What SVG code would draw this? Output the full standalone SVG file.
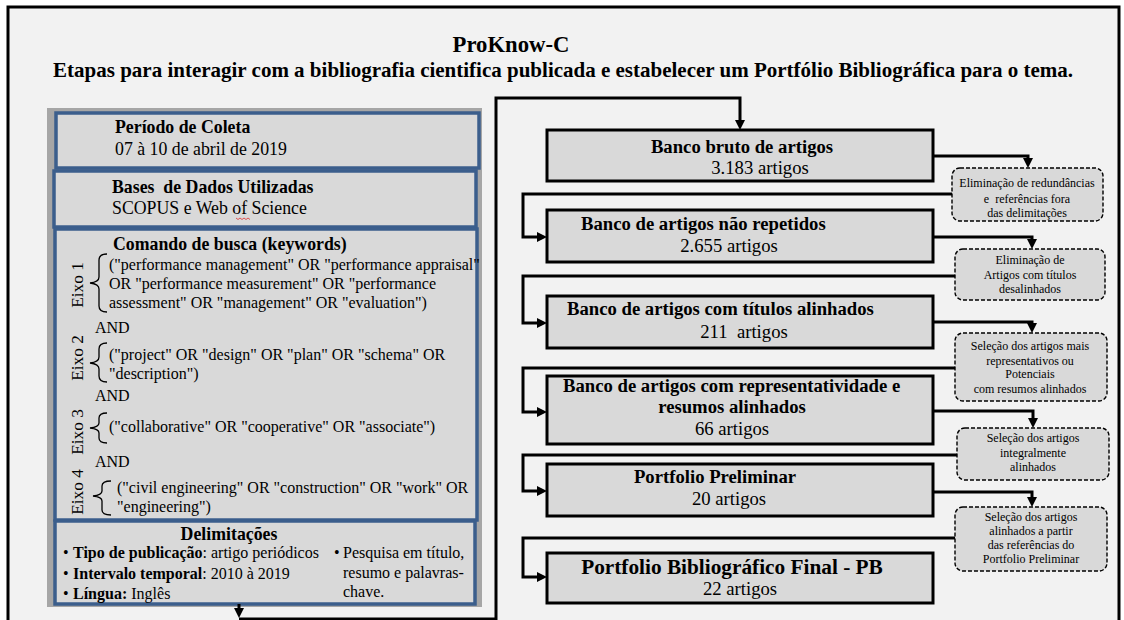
<svg xmlns="http://www.w3.org/2000/svg" width="1124" height="620" viewBox="0 0 1124 620">
<defs>
<style>
text{font-family:"Liberation Serif","Times New Roman",serif;fill:#000}
.b{font-weight:bold}
.h{font-size:17.8px}
.l{font-size:16px}
.e{font-size:17.3px}
.r{font-size:18.7px}
.s{font-size:12px}
.m{text-anchor:middle}
.pre{white-space:pre}
.blue{fill:#d9d9d9;stroke:#3b5e8c;stroke-width:3.5}
.box{fill:#d9d9d9;stroke:#000;stroke-width:3}
.dash{fill:#d9d9d9;stroke:#000;stroke-width:1.4;stroke-dasharray:4 2}
.con{fill:none;stroke:#000;stroke-width:3}
.br{fill:none;stroke:#000;stroke-width:1.3}
</style>
<marker id="ah" markerUnits="userSpaceOnUse" markerWidth="11" markerHeight="11" refX="0" refY="5" orient="auto">
<path d="M0,0 L10,5 L0,10 z" fill="#000"/>
</marker>
</defs>
<rect width="1124" height="620" fill="#fff"/>
<rect x="8" y="7" width="1111" height="620" fill="#f2f2f2" stroke="#000" stroke-width="3"/>
<g id="title">
<text class="b m" x="511" y="52" font-size="22.7">ProKnow-C</text>
<text class="b m" x="563" y="77" font-size="21">Etapas para interagir com a bibliografia cientifica publicada e estabelecer um Portfólio Bibliográfica para o tema.</text>
</g>
<g id="left-panel">
<rect x="47" y="108" width="435" height="499" fill="#a6a6a6"/>
<g id="periodo">
<rect class="blue" x="56" y="113" width="423" height="55"/>
<text class="b h" x="115" y="133">Período de Coleta</text>
<text class="h" x="115" y="155">07 à 10 de abril de 2019</text>
</g>
<g id="bases">
<rect class="blue" x="54" y="171" width="422" height="56"/>
<text class="b h pre" x="112" y="193">Bases  de Dados Utilizadas</text>
<text class="h" x="112" y="214">SCOPUS e Web of Science</text>
<path d="M236,218 l2,1.5 l2,-1.5 l2,1.5 l2,-1.5 l2,1.5 l2,-1.5 l2,1.5" fill="none" stroke="#e03030" stroke-width="0.8"/>
</g>
<g id="comando">
<rect class="blue" x="55" y="229" width="422" height="291"/>
<text class="b h" x="113" y="250">Comando de busca (keywords)</text>
<text class="e" transform="translate(83,285) rotate(-90)" text-anchor="middle">Eixo 1</text>
<path class="br" d="M107,254 Q99,254 99,260 L99,277 Q99,282 90,283 Q99,284 99,289 L99,306 Q99,312 107,312"/>
<text class="l" x="109" y="270">("performance management" OR "performance appraisal"</text>
<text class="l" x="109" y="289">OR "performance measurement" OR "performance</text>
<text class="l" x="109" y="308">assessment" OR "management" OR "evaluation")</text>
<text class="l" x="95" y="333">AND</text>
<text class="e" transform="translate(83,358) rotate(-90)" text-anchor="middle">Eixo 2</text>
<path class="br" d="M107,343 Q99,343 99,349 L99,357 Q99,362 90,363 Q99,364 99,369 L99,376 Q99,382 107,382"/>
<text class="l" x="109" y="360">("project" OR "design" OR "plan" OR "schema" OR</text>
<text class="l" x="109" y="379">"description")</text>
<text class="l" x="95" y="401">AND</text>
<text class="e" transform="translate(83,432) rotate(-90)" text-anchor="middle">Eixo 3</text>
<path class="br" d="M107,413 Q99,413 99,418 L99,423 Q99,427 90,428 Q99,429 99,433 L99,438 Q99,443 107,443"/>
<text class="l" x="109" y="432">("collaborative" OR "cooperative" OR "associate")</text>
<text class="l" x="95" y="467">AND</text>
<text class="e" transform="translate(83,492) rotate(-90)" text-anchor="middle">Eixo 4</text>
<path class="br" d="M111,481 Q102,481 102,486 L102,491 Q102,495 93,496 Q102,497 102,501 L102,510 Q102,515 111,515"/>
<text class="l" x="117" y="493">("civil engineering" OR "construction" OR "work" OR</text>
<text class="l" x="117" y="512">"engineering")</text>
</g>
<g id="delimitacoes">
<rect class="blue" x="55" y="521" width="420" height="83"/>
<text class="b h m" x="229" y="540">Delimitações</text>
<text class="l" x="63" y="558">•</text>
<text class="l" x="73" y="558"><tspan class="b">Tipo de publicação</tspan>: artigo periódicos</text>
<text class="l" x="63" y="579">•</text>
<text class="l" x="73" y="579"><tspan class="b">Intervalo temporal</tspan>: 2010 à 2019</text>
<text class="l" x="63" y="599">•</text>
<text class="l" x="73" y="599"><tspan class="b">Língua:</tspan> Inglês</text>
<text class="l" x="334" y="558">•</text>
<text class="l" x="343" y="558">Pesquisa em título,</text>
<text class="l" x="343" y="578">resumo e palavras-</text>
<text class="l" x="343" y="597">chave.</text>
</g>
</g>
<g id="connectors">
<path class="con" d="M239,604 L239,608" marker-end="url(#ah)"/>
<path class="con" d="M239,619 L496,619 L496,98 L740,98 L740,120" marker-end="url(#ah)"/>
<path class="con" d="M933,156 L1028,156 L1028,158" marker-end="url(#ah)"/>
<path class="con" d="M952,194 L523,194 L523,237 L537,237" marker-end="url(#ah)"/>
<path class="con" d="M933,237 L1032,237 L1032,239" marker-end="url(#ah)"/>
<path class="con" d="M955,276 L523,276 L523,323 L537,323" marker-end="url(#ah)"/>
<path class="con" d="M933,322 L1032,322 L1032,323" marker-end="url(#ah)"/>
<path class="con" d="M955,368 L523,368 L523,412 L537,412" marker-end="url(#ah)"/>
<path class="con" d="M933,411 L1033,411 L1033,418" marker-end="url(#ah)"/>
<path class="con" d="M957,455 L523,455 L523,491 L537,491" marker-end="url(#ah)"/>
<path class="con" d="M933,492 L1032,492 L1032,497" marker-end="url(#ah)"/>
<path class="con" d="M955,538 L523,538 L523,577 L537,577" marker-end="url(#ah)"/>
</g>
<g id="banco-bruto">
<rect class="box" x="547" y="130" width="386" height="51"/>
<text class="b r m" x="742" y="153">Banco bruto de artigos</text>
<text class="r m" x="760" y="174">3.183 artigos</text>
</g>
<g id="banco-nao-repetidos">
<rect class="box" x="547" y="210" width="386" height="52"/>
<text class="b r" x="581" y="230">Banco de artigos não repetidos</text>
<text class="r m" x="729" y="252">2.655 artigos</text>
</g>
<g id="banco-titulos">
<rect class="box" x="547" y="296" width="386" height="52"/>
<text class="b r" x="567" y="315">Banco de artigos com títulos alinhados</text>
<text class="r m pre" x="744" y="338">211  artigos</text>
</g>
<g id="banco-representatividade">
<rect class="box" x="547" y="376" width="386" height="68"/>
<text class="b r" x="563" y="392">Banco de artigos com representatividade e</text>
<text class="b r m" x="732" y="413">resumos alinhados</text>
<text class="r m" x="732" y="435">66 artigos</text>
</g>
<g id="portfolio-preliminar">
<rect class="box" x="547" y="464" width="386" height="52"/>
<text class="b r m" x="715" y="483">Portfolio Preliminar</text>
<text class="r m" x="729" y="505">20 artigos</text>
</g>
<g id="portfolio-final">
<rect class="box" x="547" y="553" width="386" height="50"/>
<text class="b m" x="732" y="574" font-size="21.3">Portfolio Bibliográfico Final - PB</text>
<text class="r m" x="740" y="595">22 artigos</text>
</g>
<g id="filtro1">
<rect class="dash" x="952" y="168" width="151" height="53" rx="8"/>
<text class="s m" x="1027" y="187">Eliminação de redundâncias</text>
<text class="s m pre" x="1027" y="203">e  referências fora</text>
<text class="s m" x="1027" y="217">das delimitações</text>
</g>
<g id="filtro2">
<rect class="dash" x="955" y="249" width="150" height="51" rx="8"/>
<text class="s m" x="1030" y="264">Eliminação de</text>
<text class="s m" x="1030" y="279">Artigos com títulos</text>
<text class="s m" x="1030" y="293">desalinhados</text>
</g>
<g id="filtro3">
<rect class="dash" x="955" y="333" width="152" height="68" rx="8"/>
<text class="s m" x="1030" y="350">Seleção dos artigos mais</text>
<text class="s m" x="1030" y="365">representativos ou</text>
<text class="s m" x="1030" y="378">Potenciais</text>
<text class="s m" x="1030" y="393">com resumos alinhados</text>
</g>
<g id="filtro4">
<rect class="dash" x="957" y="428" width="152" height="52" rx="8"/>
<text class="s m" x="1033" y="442">Seleção dos artigos</text>
<text class="s m" x="1033" y="457">integralmente</text>
<text class="s m" x="1033" y="471">alinhados</text>
</g>
<g id="filtro5">
<rect class="dash" x="955" y="507" width="152" height="64" rx="8"/>
<text class="s m" x="1031" y="521">Seleção dos artigos</text>
<text class="s m" x="1031" y="535">alinhados a partir</text>
<text class="s m" x="1031" y="549">das referências do</text>
<text class="s m" x="1031" y="563">Portfolio Preliminar</text>
</g>
</svg>
